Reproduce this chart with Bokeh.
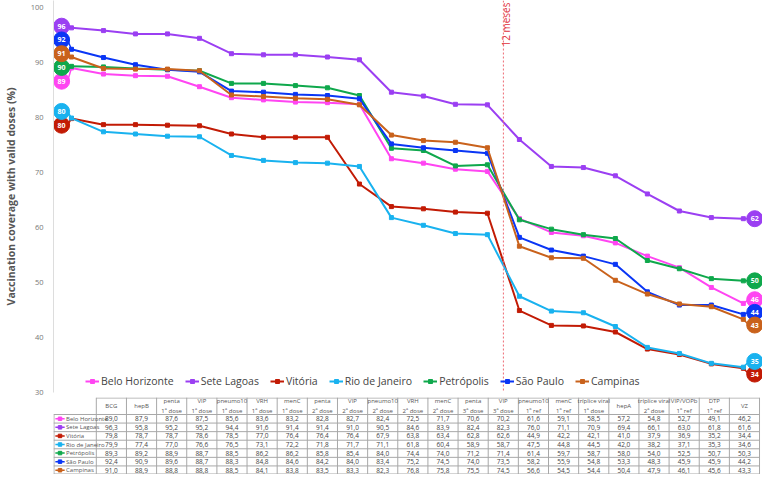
import numpy as np
from bokeh.plotting import figure
from bokeh.models import Range1d, Legend, LegendItem, FixedTicker, Span
from bokeh.layouts import column
from bokeh.embed import file_html
from bokeh.resources import INLINE
from bokeh.core.properties import value

# ---------------- data ----------------
vaccines = ["BCG", "hepB", "penta\n1ª dose", "VIP\n1ª dose", "pneumo10\n1ª dose", "VRH\n1ª dose",
            "menC\n1ª dose", "penta\n2ª dose", "VIP\n2ª dose", "pneumo10\n2ª dose", "VRH\n2ª dose",
            "menC\n2ª dose", "penta\n3ª dose", "VIP\n3ª dose", "pneumo10\n1º ref", "menC\n1º ref",
            "tríplice viral\n1ª dose", "hepA", "tríplice viral\n2ª dose", "VIP/VOPb\n1º ref",
            "DTP\n1º ref", "VZ"]
cities = ["Belo Horizonte", "Sete Lagoas", "Vitória", "Rio de Janeiro", "Petrópolis", "São Paulo", "Campinas"]
colors = ["#ff45f2", "#9b3ff2", "#c21b05", "#19b2ef", "#0fa84c", "#0a36f5", "#c9621c"]

belo_horizonte = [89.0, 87.9, 87.6, 87.5, 85.6, 83.6, 83.2, 82.8, 82.7, 82.4, 72.5, 71.7, 70.6, 70.2,
                  61.6, 59.1, 58.5, 57.2, 54.8, 52.7, 49.1, 46.2]
sete_lagoas = [96.3, 95.8, 95.2, 95.2, 94.4, 91.6, 91.4, 91.4, 91.0, 90.5, 84.6, 83.9, 82.4, 82.3,
               76.0, 71.1, 70.9, 69.4, 66.1, 63.0, 61.8, 61.6]
vitoria = [79.8, 78.7, 78.7, 78.6, 78.5, 77.0, 76.4, 76.4, 76.4, 67.9, 63.8, 63.4, 62.8, 62.6,
           44.9, 42.2, 42.1, 41.0, 37.9, 36.9, 35.2, 34.4]
rio_de_janeiro = [79.9, 77.4, 77.0, 76.6, 76.5, 73.1, 72.2, 71.8, 71.7, 71.1, 61.8, 60.4, 58.9, 58.7,
                  47.5, 44.8, 44.5, 42.0, 38.2, 37.1, 35.3, 34.6]
petropolis = [89.3, 89.2, 88.9, 88.7, 88.5, 86.2, 86.2, 85.8, 85.4, 84.0, 74.4, 74.0, 71.2, 71.4,
              61.4, 59.7, 58.7, 58.0, 54.0, 52.5, 50.7, 50.3]
sao_paulo = [92.4, 90.9, 89.6, 88.7, 88.3, 84.8, 84.6, 84.2, 84.0, 83.4, 75.2, 74.5, 74.0, 73.5,
             58.2, 55.9, 54.8, 53.3, 48.3, 45.9, 45.9, 44.2]
campinas = [91.0, 88.9, 88.8, 88.8, 88.5, 84.1, 83.8, 83.5, 83.3, 82.3, 76.8, 75.8, 75.5, 74.5,
            56.6, 54.5, 54.4, 50.4, 47.9, 46.1, 45.6, 43.3]
series = [belo_horizonte, sete_lagoas, vitoria, rio_de_janeiro, petropolis, sao_paulo, campinas]

start_labels = ["89", "96", "80", "80", "90", "92", "91"]
end_labels = ["46", "62", "34", "35", "50", "44", "43"]
y_ticks = [30, 40, 50, 60, 70, 80, 90, 100]
marker_label = "12 meses"
marker_pos = 13.5   # between "VIP 3ª dose" and "pneumo10 1º ref"

FONT = "Open Sans"
COLW = 32.4            # px per category
PX_PER_UNIT = 5.5      # px per percentage point
W = 762


def spread(vals, gap):
    vals = np.asarray(vals, float)
    order = np.argsort(-vals)
    pos = vals[order].copy()
    for _ in range(500):
        moved = False
        for k in range(len(pos) - 1):
            d = pos[k] - pos[k + 1]
            if d < gap - 1e-9:
                s = (gap - d) / 2
                pos[k] += s
                pos[k + 1] -= s
                moved = True
        if not moved:
            break
    out = np.empty_like(pos)
    out[order] = pos
    return out


# ---------------- chart ----------------
frame_left_px = 44
frame_w = W - frame_left_px
x0 = -0.562
frame_h = 392
y_end = 30 + frame_h / PX_PER_UNIT

p = figure(width=W, height=frame_h + 5, output_backend="svg", toolbar_location=None,
           x_range=Range1d(x0, x0 + frame_w / COLW), y_range=Range1d(30, y_end),
           x_axis_location=None, min_border_left=frame_left_px, min_border_right=0,
           min_border_top=0, min_border_bottom=5)
p.outline_line_color = None
p.grid.visible = False
p.background_fill_color = "white"

ax = p.yaxis[0]
ax.ticker = FixedTicker(ticks=y_ticks)
ax.axis_label = "Vaccination coverage with valid doses (%)"
ax.axis_label_text_font = FONT
ax.axis_label_text_font_size = "10.5px"
ax.axis_label_text_font_style = "bold"
ax.axis_label_text_color = "#555555"
ax.axis_label_standoff = 10
ax.major_label_text_font = FONT
ax.major_label_text_font_size = "7.5px"
ax.major_label_text_color = "#777777"
ax.axis_line_color = "#dddddd"
ax.major_tick_line_color = None
ax.minor_tick_line_color = None
ax.major_label_standoff = 4

p.add_layout(Span(location=marker_pos, dimension="height", line_color="#ee6b74",
                  line_dash="2 2", line_width=1))
p.text(x=[marker_pos + 10 / COLW], y=[y_end - 2 / PX_PER_UNIT], text=[marker_label],
       angle=np.pi / 2, text_align="right", text_baseline="bottom",
       text_font=value(FONT), text_font_size="10px", text_color="#e0303c")

xs = np.arange(len(vaccines))
first_vals = [s[0] for s in series]
last_vals = [s[-1] for s in series]
left_y = spread(first_vals, 2.5)
right_y = spread(last_vals, 2.3)
left_x = -10 / COLW
right_x = xs[-1] + 11.5 / COLW

items = []
for i, (name, col, vals) in enumerate(zip(cities, colors, series)):
    p.segment(x0=[left_x + 6 / COLW], y0=[left_y[i]], x1=[0], y1=[vals[0]], line_color=col, line_width=1.5)
    p.segment(x0=[xs[-1]], y0=[vals[-1]], x1=[right_x - 6 / COLW], y1=[right_y[i]], line_color=col, line_width=1.5)
    lr = p.line(xs, vals, line_color=col, line_width=2)
    sr = p.scatter(xs, vals, size=4, marker="square", fill_color=col, line_color=col)
    items.append(LegendItem(label=name, renderers=[lr, sr]))

for i, col in enumerate(colors):
    p.scatter([left_x], [left_y[i]], size=16, fill_color=col, line_color=col)
    p.scatter([right_x], [right_y[i]], size=16, fill_color=col, line_color=col)
p.text(x=[left_x] * len(cities), y=list(left_y), text=start_labels, text_align="center",
       text_baseline="middle", text_color="white", text_font=value(FONT),
       text_font_size="7px", text_font_style="bold")
p.text(x=[right_x] * len(cities), y=list(right_y), text=end_labels, text_align="center",
       text_baseline="middle", text_color="white", text_font=value(FONT),
       text_font_size="7px", text_font_style="bold")

legend = Legend(items=items, orientation="horizontal", location=(32, 4),
                label_text_font=FONT, label_text_font_size="10.5px", label_text_color="#444444",
                glyph_width=14, glyph_height=10, label_standoff=2, spacing=11, padding=0, margin=0,
                background_fill_alpha=0, border_line_color=None, label_height=12)
p.add_layout(legend)

# ---------------- table ----------------
TH = 77
HEAD = 17
ROW = (TH - HEAD) / len(cities)
tx0 = -1.92
t = figure(width=W, height=TH, output_backend="svg", toolbar_location=None,
           x_range=Range1d(tx0, tx0 + W / COLW), y_range=Range1d(TH, 0),
           x_axis_location=None, y_axis_location=None, min_border=0)
t.outline_line_color = None
t.grid.visible = False

ncol = len(vaccines)
grid_col = "#a8a8a8"
# vertical lines
t.segment(x0=[i - 0.5 for i in range(ncol + 1)], y0=[0] * (ncol + 1),
          x1=[i - 0.5 for i in range(ncol + 1)], y1=[TH - 0.5] * (ncol + 1),
          line_color=grid_col, line_width=1)
t.segment(x0=[tx0 + 0.5 / COLW], y0=[HEAD], x1=[tx0 + 0.5 / COLW], y1=[TH - 0.5],
          line_color=grid_col, line_width=1)
# horizontal lines
t.segment(x0=[-0.5], y0=[0.5], x1=[ncol - 0.5], y1=[0.5], line_color=grid_col, line_width=1)
hy = [HEAD + k * ROW for k in range(len(cities) + 1)]
hy[-1] = TH - 0.5
t.segment(x0=[tx0] * len(hy), y0=hy, x1=[ncol - 0.5] * len(hy), y1=hy,
          line_color=grid_col, line_width=1)

t.text(x=list(xs), y=[HEAD / 2] * ncol, text=vaccines, text_align="center", text_baseline="middle",
       text_font=value(FONT), text_font_size="6px", text_color="#555555", text_line_height=1.25)

for r, (name, col, vals) in enumerate(zip(cities, colors, series)):
    yc = HEAD + (r + 0.5) * ROW
    t.line([tx0 + 2 / COLW, tx0 + 12 / COLW], [yc, yc], line_color=col, line_width=1.5)
    t.scatter([tx0 + 7 / COLW], [yc], size=3.5, marker="square", fill_color=col, line_color=col)
    t.text(x=[tx0 + 13.5 / COLW], y=[yc], text=[name], text_align="left", text_baseline="middle",
           text_font=value(FONT), text_font_size="6px", text_color="#555555")
    t.text(x=list(xs), y=[yc] * ncol, text=[f"{v:.1f}".replace(".", ",") for v in vals],
           text_align="center", text_baseline="middle", text_font=value(FONT),
           text_font_size="6.5px", text_color="#444444")

layout = column(p, t, spacing=0)
open("out.html", "w").write(file_html(layout, INLINE))
